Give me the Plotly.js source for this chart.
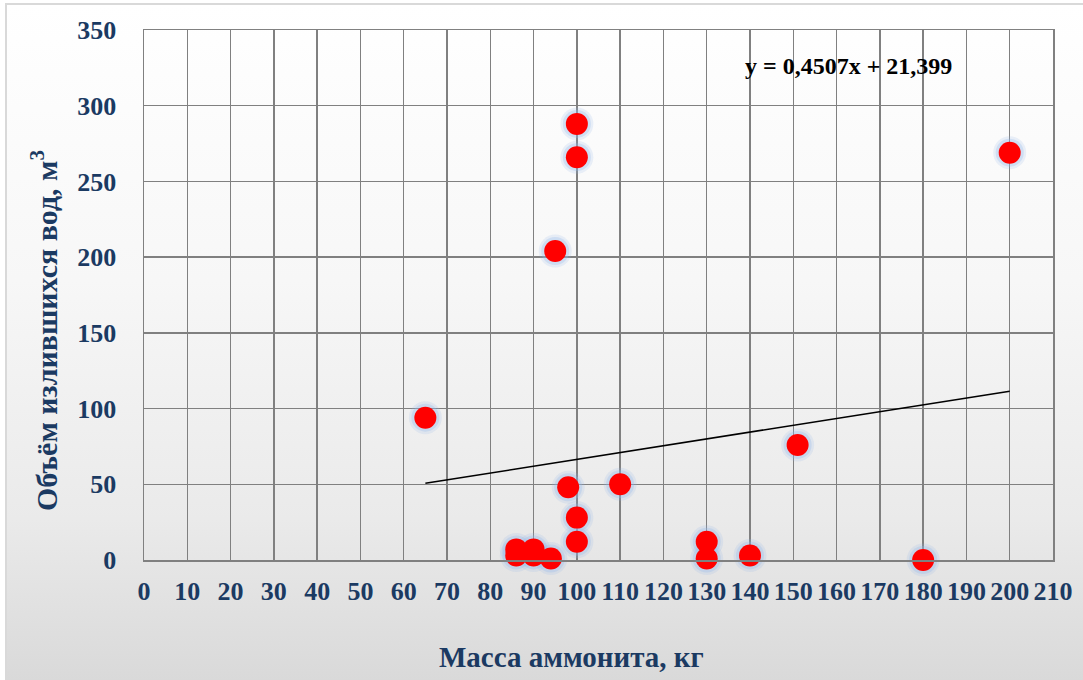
<!DOCTYPE html>
<html>
<head>
<meta charset="utf-8">
<script src="https://cdn.plot.ly/plotly-3.0.1.min.js"></script>
<style>
  html, body { margin: 0; padding: 0; background: #ffffff; }
  #wrap { position: relative; width: 1083px; height: 680px; overflow: hidden; }
  #bg { position: absolute; left: 5px; top: 3px; width: 1090px; height: 690px;
        border: 2px solid #d9d9d9; box-sizing: border-box;
        background: linear-gradient(to bottom, #ffffff 0%, #f7f7f7 40%, #eaeaea 75%, #d8d8d8 100%); }
  #chart { position: absolute; left: 0; top: 0; width: 1083px; height: 680px; }
</style>
</head>
<body>
<div id="wrap"><div id="bg"></div><div id="chart"></div></div>
<script>
// Data
const massKg   = [65, 95, 100, 100, 200, 151, 98, 110, 100, 100, 94, 86, 86, 90, 90, 130, 130, 140, 180];
const volumeM3 = [94, 204, 288, 266, 269, 76, 48, 50, 28, 12, 1, 7, 3, 7, 3, 12, 1, 3, 0];
const trendX = [65, 200];
const trendY = [50.7, 111.5];
const equationText = "y = 0,4507x + 21,399";
const xTitle = "Масса аммонита, кг";
const yTitle = "Объём излившихся вод, м<sup>3</sup>";

const navy = "#1b3a62";
const serif = "'Liberation Serif'";

const traces = [
  { x: massKg, y: volumeM3, type: "scatter", mode: "markers", hoverinfo: "skip", cliponaxis: false,
    marker: { size: 33, color: "rgba(150,185,235,0.18)", line: { width: 0 } } },
  { x: massKg, y: volumeM3, type: "scatter", mode: "markers", hoverinfo: "skip", cliponaxis: false,
    marker: { size: 28, color: "rgba(150,185,235,0.30)", line: { width: 0 } } },
  { x: massKg, y: volumeM3, type: "scatter", mode: "markers", hoverinfo: "skip", cliponaxis: false,
    marker: { size: 22, color: "#ff0000", line: { width: 0 } } },
  { x: trendX, y: trendY, type: "scatter", mode: "lines", hoverinfo: "skip",
    line: { color: "#000000", width: 1.5 } }
];

const layout = {
  width: 1083, height: 680,
  margin: { l: 144, r: 30, t: 30, b: 120 },
  paper_bgcolor: "rgba(0,0,0,0)",
  plot_bgcolor: "rgba(0,0,0,0)",
  showlegend: false,
  font: { family: serif, color: navy },
  xaxis: {
    range: [0, 210], tick0: 0, dtick: 10, tickangle: 0,
    showgrid: true, gridcolor: "#808080", gridwidth: 1.5,
    showline: true, linecolor: "#808080", linewidth: 1.5, mirror: true,
    zeroline: false, ticks: "", ticklabelstandoff: 7,
    tickfont: { family: serif, size: 26, color: navy, weight: "bold" }
  },
  yaxis: {
    range: [0, 350], tick0: 0, dtick: 50,
    showgrid: true, gridcolor: "#808080", gridwidth: 1.5,
    showline: true, linecolor: "#808080", linewidth: 1.5, mirror: true,
    zeroline: false, ticks: "", ticklabelstandoff: 21,
    tickfont: { family: serif, size: 26, color: navy, weight: "bold" }
  },
  annotations: [
    { text: equationText, xref: "paper", yref: "paper",
      x: (848 - 144) / 909, y: (560 - 66) / 530, xanchor: "center", yanchor: "middle",
      showarrow: false, font: { family: serif, size: 24, color: "#000000", weight: "bold" } },
    { text: xTitle, xref: "paper", yref: "paper",
      x: (571 - 144) / 909, y: (560 - 657) / 530, xanchor: "center", yanchor: "middle",
      showarrow: false, font: { family: serif, size: 29, color: navy, weight: "bold" } },
    { text: yTitle, xref: "paper", yref: "paper", textangle: -90,
      x: (44 - 144) / 909, y: (560 - 331) / 530, xanchor: "center", yanchor: "middle",
      showarrow: false, font: { family: serif, size: 30, color: navy, weight: "bold" } }
  ]
};

Plotly.newPlot("chart", traces, layout, { staticPlot: true, displayModeBar: false });
</script>
</body>
</html>
